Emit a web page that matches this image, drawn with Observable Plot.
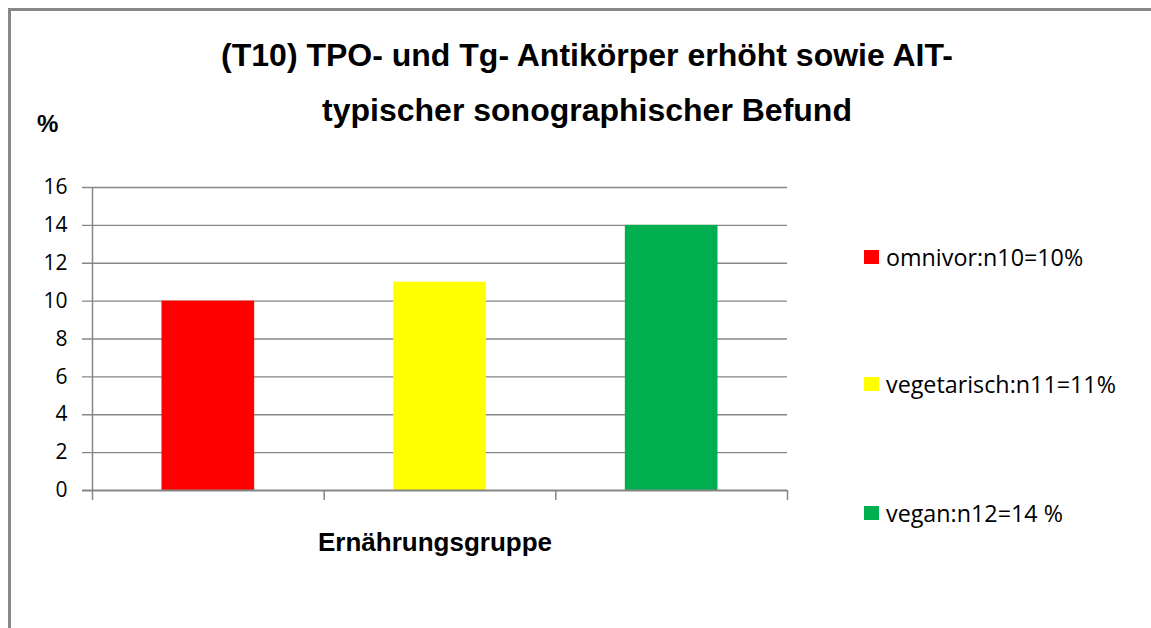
<!DOCTYPE html>
<html>
<head>
<meta charset="utf-8">
<script src="https://cdn.jsdelivr.net/npm/d3@7"></script>
<script src="https://cdn.jsdelivr.net/npm/@observablehq/plot@0.6"></script>
<style>
  html, body { margin: 0; padding: 0; background: #fff; overflow: hidden; }
  #wrap { position: relative; width: 1151px; height: 628px; overflow: hidden; background: #fff; }
  #frame { position: absolute; left: 8px; top: 8px; width: 1140px; height: 617px;
           border-left: 3px solid #888; border-top: 3px solid #888; }
  #cover { position: absolute; left: 1138px; top: 12px; width: 20px; height: 630px; background: #fff; z-index: 10; }
  .t { position: absolute; font-family: "Liberation Sans", Arial, sans-serif; font-weight: bold; color: #000; white-space: nowrap; }
  .tl { left: 0; width: 1174px; text-align: center; font-size: 32px; line-height: 40px; }
  #ylab { left: 37px; top: 110px; font-size: 24px; }
  #xlab { left: 0; width: 870px; text-align: center; top: 527px; font-size: 26px; }
  #legend { position: absolute; left: 864px; top: 0; font-family: "Open Sans", "Noto Sans", sans-serif; font-size: 23.3px; color: #000; }
  .li { position: absolute; white-space: nowrap; display: flex; align-items: center; height: 30px; }
  .sw { width: 15px; height: 14px; margin-right: 7px; }
  svg { position: absolute; left: 0; top: 0; }
</style>
</head>
<body>
<div id="wrap">
  <div id="frame"></div>
</div>
<script>
const categories = ["omnivor", "vegetarisch", "vegan"];
const values = [10, 11, 14];
const colors = ["#ff0000", "#ffff00", "#00b050"];
const legendLabels = ["omnivor:n10=10%", "vegetarisch:n11=11%", "vegan:n12=14 %"];
const yTicks = [0, 2, 4, 6, 8, 10, 12, 14, 16];
const boundaries = [0, 1, 2, 3];
const titleLines = ["(T10) TPO- und Tg- Antikörper erhöht sowie AIT-", "typischer sonographischer Befund"];
const yLabel = "%";
const xLabel = "Ernährungsgruppe";

const data = categories.map((c, i) => ({cat: c, i, value: values[i], color: colors[i]}));

const chart = Plot.plot({
  width: 1151,
  height: 628,
  marginLeft: 92,
  marginRight: 364,
  marginTop: 187,
  marginBottom: 138,
  style: {background: "transparent", fontFamily: "'Open Sans', 'Noto Sans', sans-serif"},
  x: {domain: [0, 3], axis: null},
  y: {domain: [0, 16], axis: null},
  marks: [
    Plot.ruleY(yTicks.filter(d => d > 0), {x1: 0, x2: 3, stroke: "#868686", strokeWidth: 1.3, insetLeft: -10}),
    Plot.rectY(data, {x1: d => d.i + 0.3, x2: d => d.i + 0.7, y1: 0, y2: "value", fill: "color"}),
    Plot.ruleX([0], {y1: 16, y2: 0, stroke: "#868686", strokeWidth: 1.5, insetBottom: -10}),
    Plot.ruleX(boundaries.slice(1), {y1: 0, y2: 0, stroke: "#868686", strokeWidth: 1.5, insetBottom: -10}),
    Plot.ruleY([0], {x1: 0, x2: 3, stroke: "#868686", strokeWidth: 2.2, insetLeft: -10}),
    Plot.text(yTicks, {x: 0, y: d => d, text: d => String(d), textAnchor: "end", dx: -25, fontSize: 21, fill: "#000"})
  ]
});
const wrap = document.getElementById("wrap");
wrap.appendChild(chart);

const titleTops = [35, 90];
titleLines.forEach((line, i) => {
  const d = document.createElement("div");
  d.className = "t tl";
  d.style.top = titleTops[i] + "px";
  d.textContent = line;
  wrap.appendChild(d);
});

const yl = document.createElement("div");
yl.id = "ylab"; yl.className = "t"; yl.textContent = yLabel;
wrap.appendChild(yl);

const xl = document.createElement("div");
xl.id = "xlab"; xl.className = "t"; xl.textContent = xLabel;
wrap.appendChild(xl);

const legend = document.createElement("div");
legend.id = "legend";
const legendTops = [242, 369, 498];
legendLabels.forEach((l, i) => {
  const it = document.createElement("div");
  it.className = "li";
  it.style.top = legendTops[i] + "px";
  it.innerHTML = `<span class="sw" style="background:${colors[i]}"></span><span>${l}</span>`;
  legend.appendChild(it);
});
wrap.appendChild(legend);

const cover = document.createElement("div");
cover.id = "cover";
wrap.appendChild(cover);
</script>
</body>
</html>
